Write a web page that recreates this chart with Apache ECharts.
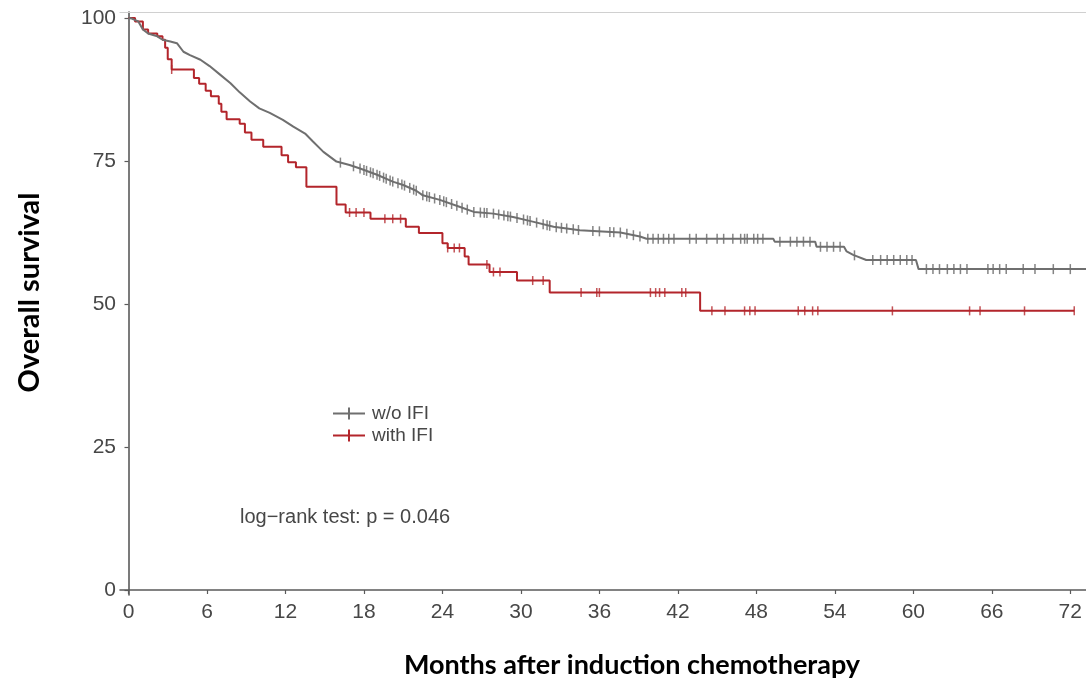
<!DOCTYPE html>
<html>
<head>
<meta charset="utf-8">
<script src="https://cdn.jsdelivr.net/npm/echarts@6/dist/echarts.min.js"></script>
<style>
html,body{margin:0;padding:0;background:#fff;}
#chart{width:1086px;height:691px;}
</style>
</head>
<body>
<div id="chart"></div>
<script>
// ---- data ----
const xTicks = [0, 6, 12, 18, 24, 30, 36, 42, 48, 54, 60, 66, 72];
const yTicks = [0, 25, 50, 75, 100];

// w/o IFI (grey) curve: months / survival (%)
const woTime = [0, 0.25, 0.75, 1.1, 1.5, 2.2, 2.6, 3.2, 3.7, 4.2, 4.7, 5.5, 6.2, 7.0, 7.8, 8.5, 9.3, 10.0, 10.8, 11.8, 12.6, 13.5, 14.1, 14.9, 15.9, 16.9, 17.7, 19.0, 20.2, 21.0, 22.0, 22.5, 23.8, 25.3, 26.4, 27.9, 29.4, 30.9, 32.5, 34.5, 37.6, 39.1, 39.6, 49.3, 49.4, 52.5, 52.6, 54.7, 54.9, 55.4, 56.4, 60.2, 60.4, 73.2];
const woSurv = [100, 99.9, 99.4, 98.0, 97.3, 96.8, 96.2, 95.9, 95.6, 94.1, 93.5, 92.7, 91.6, 90.1, 88.6, 87.0, 85.4, 84.2, 83.4, 82.2, 81.0, 79.8, 78.4, 76.6, 74.9, 74.3, 73.7, 72.6, 71.4, 70.8, 69.8, 69.0, 68.2, 67.0, 66.1, 65.8, 65.2, 64.4, 63.5, 62.9, 62.5, 61.8, 61.4, 61.4, 60.9, 60.9, 60.0, 60.0, 59.2, 58.6, 57.7, 57.7, 56.1, 56.1];
const woCensor = [16.2, 17.2, 17.7, 18.0, 18.2, 18.5, 18.7, 19.0, 19.2, 19.5, 19.7, 20.0, 20.2, 20.6, 20.9, 21.1, 21.5, 21.8, 22.0, 22.5, 22.8, 23.0, 23.4, 23.8, 24.1, 24.3, 24.7, 25.1, 25.5, 25.9, 26.4, 26.9, 27.2, 27.4, 27.9, 28.3, 28.7, 29.0, 29.2, 29.7, 30.2, 30.5, 30.7, 31.2, 31.7, 32.0, 32.2, 32.7, 33.1, 33.5, 34.0, 34.4, 35.5, 36.0, 36.8, 37.1, 37.6, 38.1, 38.6, 39.1, 39.7, 40.1, 40.5, 40.9, 41.3, 41.7, 42.9, 43.4, 44.2, 45.0, 45.5, 46.2, 46.8, 47.1, 47.3, 47.8, 48.1, 48.5, 49.8, 50.6, 51.1, 51.6, 52.1, 52.9, 53.4, 53.9, 54.4, 55.5, 56.9, 57.5, 58.0, 58.5, 59.0, 59.5, 59.9, 61.0, 61.5, 62.0, 62.6, 63.1, 63.6, 64.1, 65.7, 66.1, 66.6, 67.1, 68.4, 69.3, 70.7, 72.0];

// with IFI (red) step curve
const wiTime = [0, 0.5, 1.1, 1.5, 2.2, 2.6, 2.8, 3.0, 3.3, 5.0, 5.4, 5.9, 6.3, 6.9, 7.1, 7.5, 8.5, 8.9, 9.4, 10.3, 11.7, 12.2, 12.8, 13.6, 15.9, 16.6, 18.5, 21.2, 22.2, 24.0, 24.4, 25.7, 26.0, 27.6, 29.7, 32.2, 43.7, 72.3];
const wiSurv = [100, 99.4, 98.0, 97.3, 96.8, 96.2, 94.8, 92.8, 91.0, 89.5, 88.5, 87.3, 86.3, 85.0, 83.6, 82.3, 81.5, 80.0, 78.7, 77.5, 76.0, 74.8, 73.9, 70.5, 67.4, 66.0, 64.9, 63.5, 62.4, 60.6, 59.8, 58.3, 56.9, 55.6, 54.1, 52.0, 48.8, 48.8];
const wiCensor = [3.3, 16.9, 17.4, 18.0, 19.6, 20.2, 20.8, 24.4, 24.9, 25.3, 27.4, 27.9, 28.4, 30.9, 31.7, 34.6, 35.8, 36.0, 39.9, 40.3, 40.6, 41.0, 42.3, 42.6, 44.6, 45.6, 47.1, 47.5, 47.9, 51.2, 51.7, 52.3, 52.7, 58.4, 64.3, 65.1, 68.5, 72.3];

const seriesNames = ['w/o IFI', 'with IFI'];
const annotation = 'log\u2212rank test: p = 0.046';

// ---- helpers ----
function pairs(t, s) { return t.map((v, i) => [v, s[i]]); }
function lineValue(t, s, x) {          // value on the drawn polyline
  for (let i = 1; i < t.length; i++) {
    if (x <= t[i]) {
      if (t[i] === t[i - 1]) return s[i];
      const f = (x - t[i - 1]) / (t[i] - t[i - 1]);
      return s[i - 1] + f * (s[i] - s[i - 1]);
    }
  }
  return s[s.length - 1];
}
function stepValue(t, s, x) {          // value of the step function
  let v = s[0];
  for (let i = 0; i < t.length; i++) { if (t[i] <= x) v = s[i]; }
  return v;
}

const GREY = '#6f6f6f';
const RED = '#b3252b';
const TXT = '#474747';
const tickIcon = 'path://M0,5h32v2h-32z M15,0h2v12h-2z';

const chart = echarts.init(document.getElementById('chart'), null, {renderer: 'canvas'});
chart.setOption({
  animation: false,
  backgroundColor: '#ffffff',
  grid: {left: 120, right: 0, top: 12, bottom: 96, containLabel: false, outerBoundsMode: 'none'},
  legend: {
    data: seriesNames.map(n => ({name: n, icon: tickIcon})),
    orient: 'vertical',
    left: 328, top: 399,
    itemWidth: 32, itemHeight: 12, itemGap: 3,
    textStyle: {fontFamily: 'Liberation Sans', fontSize: 19, color: TXT, padding: [0, 0, 0, 2]}
  },
  xAxis: [{
    type: 'value', min: -0.65, max: 73.2,
    axisLine: {show: true, lineStyle: {color: '#5a5a5a', width: 1.6}},
    axisTick: {show: true, length: 4, customValues: xTicks, lineStyle: {color: '#5a5a5a', width: 1.2}},
    axisLabel: {customValues: xTicks, margin: 7, fontFamily: 'Liberation Sans', fontSize: 21, color: TXT},
    splitLine: {show: false},
    name: 'Months after induction chemotherapy',
    nameLocation: 'middle', nameGap: 57,
    nameTextStyle: {fontFamily: 'Lato', fontWeight: 'bold', fontSize: 27, color: '#000', padding: [0, 0, 0, 58]}
  }, {
    type: 'value', position: 'top', min: -0.65, max: 73.2,
    axisLine: {show: true, lineStyle: {color: '#d0d0d0', width: 1.2}},
    axisTick: {show: false}, axisLabel: {show: false}, splitLine: {show: false}
  }],
  yAxis: {
    type: 'value', min: -0.874, max: 101.05,
    axisLine: {show: true, lineStyle: {color: '#5a5a5a', width: 1.6}},
    axisTick: {show: true, length: 4, customValues: yTicks, lineStyle: {color: '#5a5a5a', width: 1.2}},
    axisLabel: {customValues: yTicks, margin: 4, fontFamily: 'Liberation Sans', fontSize: 21, color: TXT},
    splitLine: {show: false},
    name: 'Overall survival',
    nameLocation: 'middle', nameGap: 76, nameRotate: 90,
    nameTextStyle: {fontFamily: 'Lato', fontWeight: 'bold', fontSize: 29, color: '#000', padding: [0, 0, 0, 22]}
  },
  graphic: [{
    type: 'text', left: 240, top: 507,
    style: {text: annotation, fontFamily: 'Liberation Sans', fontSize: 20, fill: TXT}
  }],
  series: [
    {
      name: seriesNames[1], type: 'line', step: 'end', data: pairs(wiTime, wiSurv),
      showSymbol: false, color: RED, lineStyle: {color: RED, width: 2}, z: 2
    },
    {
      name: seriesNames[0], type: 'line', data: pairs(woTime, woSurv),
      showSymbol: false, color: GREY, lineStyle: {color: GREY, width: 2}, z: 3
    },
    {
      name: 'woCensor', type: 'scatter', symbol: 'rect', symbolSize: [1.5, 10],
      itemStyle: {color: GREY, opacity: 0.85},
      data: woCensor.map(t => [t, lineValue(woTime, woSurv, t)]), z: 4
    },
    {
      name: 'wiCensor', type: 'scatter', symbol: 'rect', symbolSize: [1.5, 9],
      itemStyle: {color: RED},
      data: wiCensor.map(t => [t, stepValue(wiTime, wiSurv, t)]), z: 4
    }
  ]
});
</script>
</body>
</html>
